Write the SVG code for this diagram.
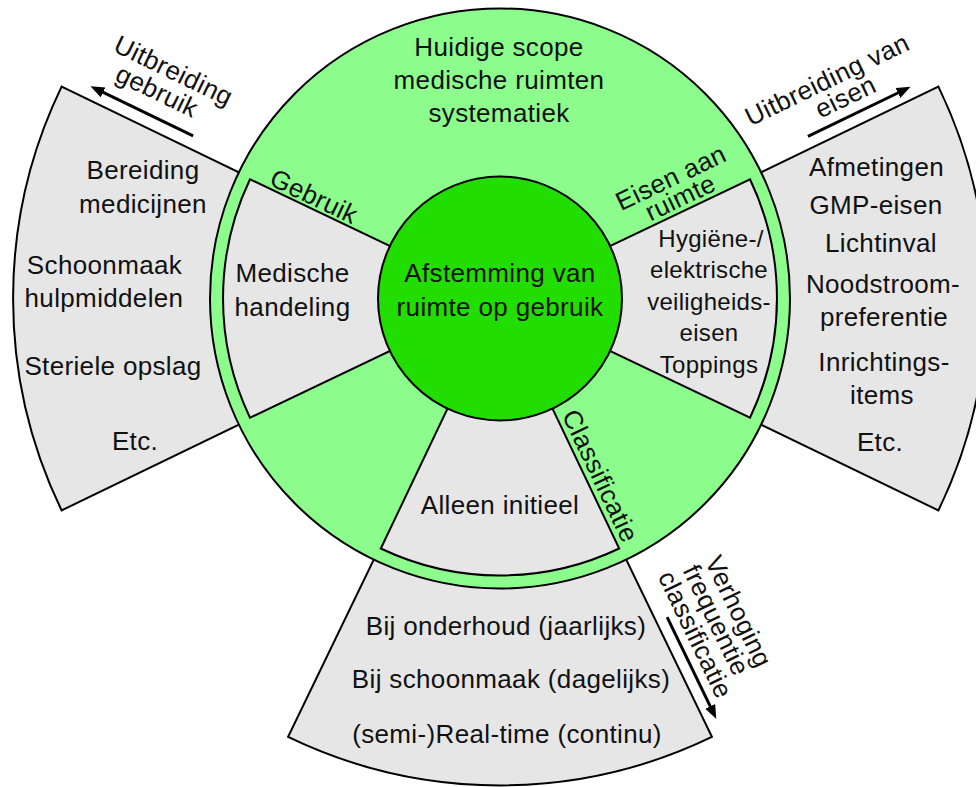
<svg xmlns="http://www.w3.org/2000/svg" width="976" height="787" viewBox="0 0 976 787">
<style>
.sec{fill:#e6e6e6;stroke:#000;stroke-width:2;stroke-linejoin:miter}
.ring{fill:#8cfc8c;stroke:#000;stroke-width:2}
.core{fill:#22dd00;stroke:#000;stroke-width:2}
text{font-family:"Liberation Sans",Arial,sans-serif;font-size:26px;letter-spacing:0.35px;text-anchor:middle;fill:#111}
.sm{font-size:24px;letter-spacing:0.3px}
.arr{stroke:#000;stroke-width:3;fill:none;marker-end:url(#ah)}
</style>
<defs>
<marker id="ah" markerUnits="userSpaceOnUse" markerWidth="16" markerHeight="12" refX="1" refY="5.5" orient="auto">
<path d="M0,0 L14,5.5 L0,11 Z" fill="#000"/>
</marker>
</defs>
<rect width="976" height="787" fill="#fff"/>
<g id="outer-gebruik">
<path class="sec" d="M500,298.5 L61.6,86.6 A487,487 0 0 0 61.6,510.4 Z"/>
<text x="143" y="179">Bereiding</text>
<text x="143" y="213">medicijnen</text>
<text x="104.5" y="274">Schoonmaak</text>
<text x="104" y="306.5">hulpmiddelen</text>
<text x="113" y="375">Steriele opslag</text>
<text x="135" y="450">Etc.</text>
</g>
<g id="outer-eisen">
<path class="sec" d="M500,298.5 L938.4,86.6 A487,487 0 0 1 938.4,510.4 Z"/>
<text x="876.5" y="176">Afmetingen</text>
<text x="876" y="214.3">GMP-eisen</text>
<text x="881" y="251.7">Lichtinval</text>
<text x="883" y="292.7">Noodstroom-</text>
<text x="884" y="326">preferentie</text>
<text x="884" y="370.7">Inrichtings-</text>
<text x="882" y="404">items</text>
<text x="880" y="451">Etc.</text>
</g>
<g id="outer-classificatie">
<path class="sec" d="M500,298.5 L711.9,736.9 A487,487 0 0 1 288.1,736.9 Z"/>
<text x="506" y="635">Bij onderhoud (jaarlijks)</text>
<text x="511" y="688.3">Bij schoonmaak (dagelijks)</text>
<text x="507" y="743.3">(semi-)Real-time (continu)</text>
</g>
<g id="scope">
<circle class="ring" cx="500" cy="298.5" r="290"/>
<text x="499" y="56">Huidige scope</text>
<text x="499" y="89">medische ruimten</text>
<text x="499" y="122">systematiek</text>
</g>
<g id="gebruik">
<path class="sec" d="M500,298.5 L250,179.3 A277,277 0 0 0 250,417.7 Z"/>
<text transform="rotate(25.5)" x="368" y="51">Gebruik</text>
<text x="292.5" y="282.3">Medische</text>
<text x="292.5" y="315.5">handeling</text>
</g>
<g id="eisen">
<path class="sec" d="M500,298.5 L750,179.3 A277,277 0 0 1 750,417.7 Z"/>
<text transform="rotate(-25.5)" x="529" y="458">Eisen aan</text>
<text transform="rotate(-25.5)" x="529" y="480">ruimte</text>
<text class="sm" x="711" y="246.5">Hygiëne-/</text>
<text class="sm" x="709" y="278">elektrische</text>
<text class="sm" x="709" y="309.5">veiligheids-</text>
<text class="sm" x="709" y="341">eisen</text>
<text class="sm" x="709" y="372.5">Toppings</text>
</g>
<g id="classificatie">
<path class="sec" d="M500,298.5 L619.2,548.5 A277,277 0 0 1 380.8,548.5 Z"/>
<text transform="rotate(64.5)" x="688" y="-328">Classificatie</text>
<text x="500" y="514.3">Alleen initieel</text>
</g>
<g id="afstemming">
<circle class="core" cx="500" cy="298.5" r="122"/>
<text x="500" y="282">Afstemming van</text>
<text x="500" y="315.5">ruimte op gebruik</text>
</g>
<g id="labels">
<text transform="rotate(25.8)" x="187" y="-3">Uitbreiding</text>
<text transform="rotate(25.8)" x="181" y="22.5">gebruik</text>
<text transform="rotate(-25.8)" x="710" y="440.5">Uitbreiding van</text>
<text transform="rotate(-25.8)" x="719" y="464">eisen</text>
<text transform="rotate(64.2)" x="872" y="-390">Verhoging</text>
<text transform="rotate(64.2)" x="870" y="-366">frequentie</text>
<text transform="rotate(64.2)" x="874" y="-341">classificatie</text>
</g>
<g id="connectors">
<line class="arr" transform="rotate(25.8)" x1="233" y1="38.3" x2="132" y2="38.3"/>
<line class="arr" transform="rotate(-25.8)" x1="668" y1="474.5" x2="769" y2="474.5"/>
<line class="arr" transform="rotate(64.2)" x1="846" y1="-332" x2="946" y2="-332"/>
</g>
</svg>
